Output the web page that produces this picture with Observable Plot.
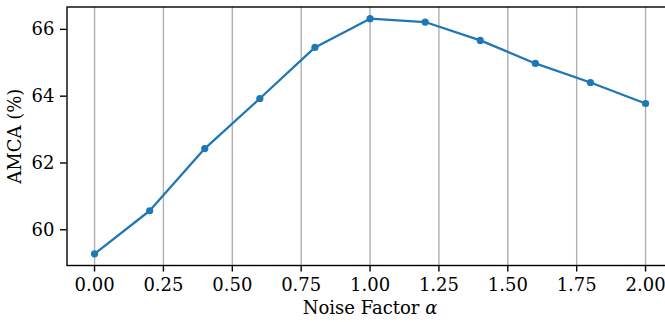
<!DOCTYPE html>
<html>
<head>
<meta charset="utf-8">
<script src="https://cdn.jsdelivr.net/npm/d3@7"></script>
<script src="https://cdn.jsdelivr.net/npm/@observablehq/plot@0.6"></script>
<style>
  html, body { margin: 0; padding: 0; background: #fff; }
  #chart svg { display: block; }
</style>
</head>
<body>
<div id="chart"></div>
<script>
const alphas = [0.0, 0.2, 0.4, 0.6, 0.8, 1.0, 1.2, 1.4, 1.6, 1.8, 2.0];
const amca = [59.28, 60.57, 62.43, 63.93, 65.46, 66.32, 66.22, 65.67, 64.98, 64.41, 63.78];
const xTicks = [0, 0.25, 0.5, 0.75, 1.0, 1.25, 1.5, 1.75, 2.0];
const yTicks = [60, 62, 64, 66];
const xLabel = "Noise Factor α";
const yLabel = "AMCA (%)";

const data = alphas.map((a, i) => ({alpha: a, amca: amca[i]}));
const font = "DejaVu Serif";
const fs = 18;

const chart = Plot.plot({
  width: 665,
  height: 322,
  marginLeft: 66.5,
  marginTop: 6.5,
  marginBottom: 57,
  marginRight: -7.6,
  style: {fontFamily: font, fontSize: fs + "px", background: "#fff", color: "#000"},
  x: {domain: [-0.1, 2.1]},
  y: {domain: [58.93, 66.67]},
  marks: [
    Plot.gridX(xTicks, {stroke: "#b0b0b0", strokeOpacity: 1, strokeWidth: 1.4}),
    Plot.line(data, {x: "alpha", y: "amca", stroke: "#1f77b4", strokeWidth: 2.3}),
    Plot.dot(data, {x: "alpha", y: "amca", r: 3.6, fill: "#1f77b4", stroke: null}),
    Plot.frame({stroke: "#000", strokeWidth: 1.4}),
    Plot.axisX(xTicks, {tickSize: 6.5, tickPadding: 6, tickFormat: d => d.toFixed(2), label: null, fontSize: fs, strokeWidth: 1.4}),
    Plot.axisY(yTicks, {tickSize: 6.5, tickPadding: 6, tickFormat: d => String(d), label: null, fontSize: fs, strokeWidth: 1.4}),
    Plot.text([yLabel], {frameAnchor: "left", dx: -51.5, rotate: -90, text: d => d, fontSize: fs, fill: "#000", textAnchor: "middle", lineAnchor: "middle"}),
    Plot.text([xLabel], {frameAnchor: "bottom", dy: 43, text: d => d, fontSize: fs, fill: "#000", textAnchor: "middle", lineAnchor: "middle"})
  ]
});
document.getElementById("chart").appendChild(chart);

// italicize the alpha symbol in the x label
d3.select(chart).selectAll("text").each(function() {
  const t = d3.select(this);
  if (t.text() === xLabel) {
    t.text(null);
    t.append("tspan").text("Noise Factor ");
    t.append("tspan").attr("font-style", "italic").text("α");
  }
});
</script>
</body>
</html>
